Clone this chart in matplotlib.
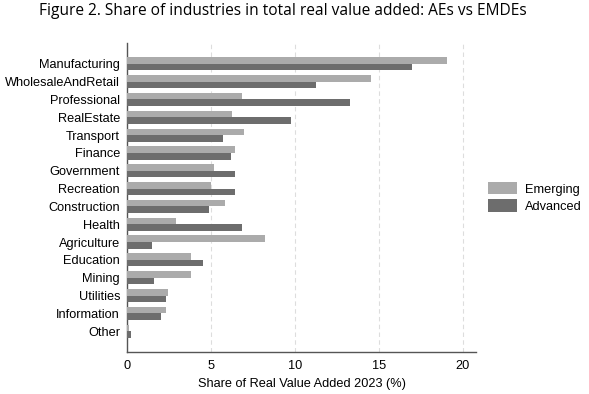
import numpy as np
import matplotlib
matplotlib.use("Agg")
from matplotlib import pyplot as plt

industries = ["Manufacturing", "WholesaleAndRetail", "Professional", "RealEstate",
              "Transport", "Finance", "Government", "Recreation", "Construction",
              "Health", "Agriculture", "Education", "Mining", "Utilities",
              "Information", "Other"]
emerging = [19.07, 14.54, 6.88, 6.25, 7.0, 6.46, 5.16, 5.02, 5.87, 2.95, 8.25,
            3.83, 3.79, 2.42, 2.34, 0.14]
advanced = [16.98, 11.27, 13.27, 9.80, 5.71, 6.21, 6.45, 6.41, 4.90, 6.86, 1.51,
            4.52, 1.59, 2.34, 2.0, 0.24]
xticks = [0, 5, 10, 15, 20]

fig = plt.figure(figsize=(5.89, 3.94), dpi=100)
ax = fig.add_axes([127 / 589, 1 - 352 / 394, (476 - 127) / 589, (352 - 43) / 394])

pos = np.arange(len(industries))[::-1]
h = 0.37
ax.barh(pos + h / 2, emerging, height=h, color="#ababab", label="Emerging", zorder=3)
ax.barh(pos - h / 2, advanced, height=h, color="#6d6d6d", label="Advanced", zorder=3)

ax.set_xlim(0, 20.8)
ax.set_ylim(-1.17, 16.17)
ax.set_yticks(pos)
ax.set_yticklabels(industries, family="Liberation Sans", fontsize=9.2)
ax.tick_params(axis="y", length=0, pad=5)
ax.set_xticks(xticks)
ax.set_xticklabels([str(t) for t in xticks], family="Liberation Sans", fontsize=9.2)
ax.tick_params(axis="x", length=0, pad=6)
ax.grid(axis="x", linestyle=(0, (4, 3)), color="#dddddd", linewidth=0.8, zorder=0)
for s in ["top", "right"]:
    ax.spines[s].set_visible(False)
for s in ["left", "bottom"]:
    ax.spines[s].set_color("#555555")
    ax.spines[s].set_linewidth(1.0)

ax.set_xlabel("Share of Real Value Added 2023 (%)", family="Liberation Sans", fontsize=9.2, labelpad=4)

ax.legend(loc="center left", bbox_to_anchor=(1.0, 0.5), frameon=False,
          prop={"family": "Liberation Sans", "size": 9.2}, handlelength=2.3,
          handleheight=1.1, labelspacing=0.3, handletextpad=0.6)

fig.text(283 / 589, 1 - 11 / 394, "Figure 2. Share of industries in total real value added: AEs vs EMDEs",
         ha="center", va="center", family="Open Sans", fontsize=11.2)

fig.savefig("out.png", dpi=100)
